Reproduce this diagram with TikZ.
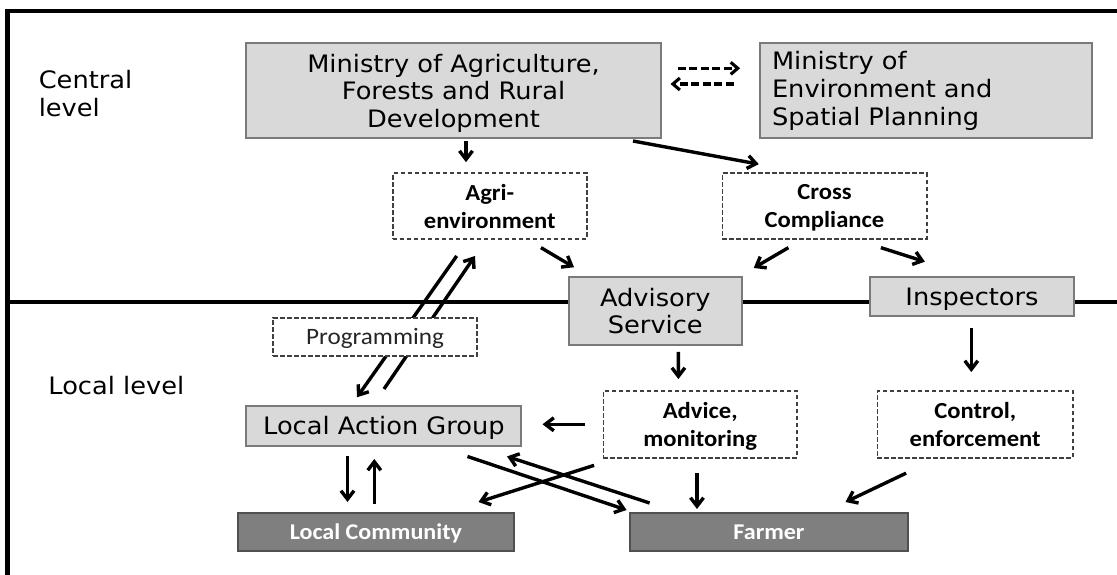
\documentclass[tikz,border=0pt]{standalone}
\usepackage{fontspec}
\setmainfont{DejaVu Sans}[FakeStretch=1.07]
\newfontfamily\carl{Carlito}[FakeStretch=1.07]
\usetikzlibrary{arrows.meta,calc}
\definecolor{lightfill}{HTML}{D9D9D9}
\definecolor{lightedge}{HTML}{7A7A7A}
\definecolor{darkfill}{HTML}{7F7F7F}
\definecolor{darkedge}{HTML}{505050}
\definecolor{dashedge}{HTML}{404040}
\tikzset{
  bigfont/.style={font=\fontsize{24}{27.8}\selectfont},
  smallfont/.style={font=\carl\bfseries\fontsize{23}{28}\selectfont},
  lightbox/.style={draw=lightedge, fill=lightfill, line width=2pt, inner sep=0pt, text depth=0pt, bigfont, align=center},
  darkbox/.style={draw=darkedge, fill=darkfill, line width=2pt, inner sep=0pt, text depth=0pt, text=white, font=\carl\bfseries\fontsize{22.5}{28}\selectfont},
  dashbox/.style={draw=dashedge, fill=white, line width=1.8pt, dash pattern=on 4.5pt off 2.5pt, inner sep=0pt, text depth=0pt, smallfont, align=center},
  arr/.style={line width=3.4pt, -{Straight Barb[length=8.5pt,width=13pt]}},
  dasharr/.style={line width=3.1pt, dash pattern=on 8pt off 3.5pt, -{Straight Barb[length=7pt,width=12pt]}},
  levellabel/.style={bigfont, inner sep=0pt, align=left}
}
\begin{document}
\begin{tikzpicture}[x=1pt,y=-1pt]
\useasboundingbox (0,0) rectangle (1117,574);
% frame and divider
\draw[line width=4.5pt] (7.5,576) -- (7.5,11) -- (1119,11);
\draw[line width=4pt] (7.5,302) -- (1119,302);

% level labels
\node[levellabel, anchor=north west] (central) at (38.6,70.1) {Central\\level};
\node[levellabel, anchor=base west] (local) at (48.2,394) {Local level};

% central level nodes
\node[lightbox, minimum width=414.2pt, minimum height=95pt] (maf) at (453.5,90.8)
  {Ministry of Agriculture,\\Forests and Rural\\Development};
\node[draw=lightedge, fill=lightfill, line width=2pt, inner sep=0pt, bigfont, minimum width=332pt, minimum height=95pt, text width=308pt, align=left] (mesp) at (926,90.8)
  {Ministry of\\Environment and\\Spatial Planning};
\node[dashbox, minimum width=193.7pt, minimum height=65.7pt] (agri) at (489.8,206.2) {Agri-\\environment};
\node[dashbox, minimum width=204.2pt, minimum height=65.7pt] (cross) at (824.5,206.2) {Cross\\Compliance};

% boundary nodes
\node[lightbox, minimum width=173.5pt, minimum height=68.3pt] (adv) at (655.3,310.8) {Advisory\\Service};
\node[lightbox, minimum width=203.6pt, minimum height=39.3pt] (insp) at (972,296.3) {Inspectors};

% local level nodes
\node[lightbox, minimum width=275pt, minimum height=39.7pt] (lag) at (383.9,425.8) {Local Action Group};
\node[dashbox, minimum width=193.6pt, minimum height=66.7pt] (advice) at (700.2,424.3) {Advice,\\monitoring};
\node[dashbox, minimum width=195.6pt, minimum height=66.7pt] (control) at (975.2,424.3) {Control,\\enforcement};
\node[darkbox, minimum width=276.8pt, minimum height=38pt] (lc) at (375.9,531.7) {Local Community};
\node[darkbox, minimum width=277.5pt, minimum height=38pt] (farmer) at (769,531.7) {Farmer};

% connectors
\draw[dasharr] ($(maf.east)+(16,-22.5)$) -- ($(mesp.west)+(-18.9,-22.5)$);
\draw[dasharr] ($(mesp.west)+(-25.4,-6.8)$) -- ($(maf.east)+(8.9,-6.8)$);
\draw[arr] ($(maf.south)+(12.5,1.7)$) -- ($(agri.north)+(-23.8,-10.3)$);
\draw[arr] ($(maf.south east)+(-28.6,1.7)$) -- ($(cross.north)+(-65.7,-8.3)$);
\draw[arr] ($(agri.south east)+(-46.6,7.7)$) -- ($(adv.north west)+(6.5,-8.4)$);
\draw[arr] ($(cross.south)+(-36.1,7.7)$) -- ($(adv.north east)+(10.7,-7.7)$);
\draw[arr] ($(cross.south east)+(-46.6,7.7)$) -- ($(insp.north)+(-47.1,-14)$);
\draw[arr] ($(agri.south)+(-33.1,16)$) -- ($(lag.north)+(-26.9,-7.7)$);
\draw[arr] ($(lag.north)+(0.1,-16)$) -- ($(agri.south)+(-14.8,16)$);
\draw[arr] ($(adv.south)+(23.1,6)$) -- ($(advice.north)+(-21.8,-11)$);
\draw[arr] ($(insp.south)+(-0.7,11)$) -- ($(control.north)+(-3.9,-18)$);
\draw[arr] ($(advice.west)+(-17.8,0)$) -- ($(lag.east)+(20.1,-1.5)$);
\draw[arr] ($(lag.south)+(-36.4,9.3)$) -- ($(lc.north)+(-28.4,-9.7)$);
\draw[arr] ($(lc.north)+(-1.6,-7.7)$) -- ($(lag.south)+(-9.6,12.3)$);
\draw[arr] ($(lag.south east)+(-54.9,9.8)$) -- ($(farmer.north west)+(-2.7,-1.7)$);
\draw[arr] ($(farmer.north west)+(20.4,-8.7)$) -- ($(lag.south east)+(-15.4,9.8)$);
\draw[arr] ($(advice.south west)+(-8.4,6.8)$) -- ($(lc.north east)+(-36.8,-9.7)$);
\draw[arr] ($(advice.south)+(-3.2,14.3)$) -- ($(farmer.north)+(-72,-2.7)$);
\draw[arr] ($(control.south west)+(29.6,14.6)$) -- ($(farmer.north east)+(-63.2,-9.7)$);

% programming box drawn over the two parallel connectors
\node[dashbox, font=\carl\fontsize{23.5}{28}\selectfont, text=black!85, minimum width=203.6pt, minimum height=38.3pt] (prog) at (375,336.8) {Programming};
\end{tikzpicture}
\end{document}
